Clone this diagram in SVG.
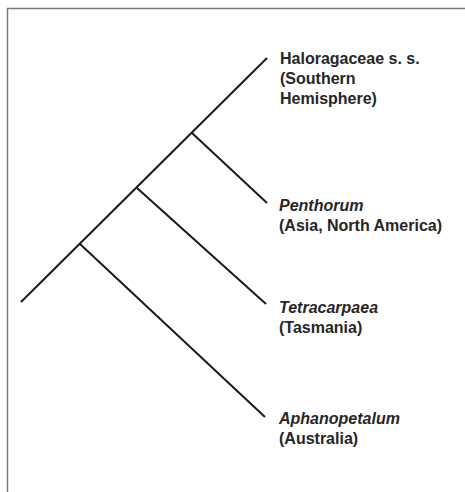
<svg xmlns="http://www.w3.org/2000/svg" width="465" height="492" viewBox="0 0 465 492">
<style>
.frame{stroke:#7a7a7a;stroke-width:1.5;fill:none}
.br{stroke:#1a1a1a;stroke-width:2;fill:none;stroke-linecap:butt}
.lbl{font-family:"Liberation Sans",Arial,sans-serif;font-size:16px;font-weight:bold;fill:#262626}
.it{font-style:italic}
</style>
<rect width="465" height="492" fill="#ffffff"/>
<path class="frame" d="M7.5,492 V8.5 H465"/>
<g id="connectors">
<line class="br" x1="21" y1="302" x2="267" y2="58"/>
<line class="br" x1="192" y1="133" x2="267" y2="203"/>
<line class="br" x1="137" y1="188" x2="266" y2="304"/>
<line class="br" x1="80" y1="244" x2="265" y2="417"/>
</g>
<g id="haloragaceae">
<text class="lbl" x="280" y="64">Haloragaceae s. s.</text>
<text class="lbl" x="280" y="84">(Southern</text>
<text class="lbl" x="280" y="104">Hemisphere)</text>
</g>
<g id="penthorum">
<text class="lbl it" x="279" y="211">Penthorum</text>
<text class="lbl" x="279" y="231">(Asia, North America)</text>
</g>
<g id="tetracarpaea">
<text class="lbl it" x="279" y="313">Tetracarpaea</text>
<text class="lbl" x="279" y="333">(Tasmania)</text>
</g>
<g id="aphanopetalum">
<text class="lbl it" x="279" y="424">Aphanopetalum</text>
<text class="lbl" x="279" y="444">(Australia)</text>
</g>
</svg>
